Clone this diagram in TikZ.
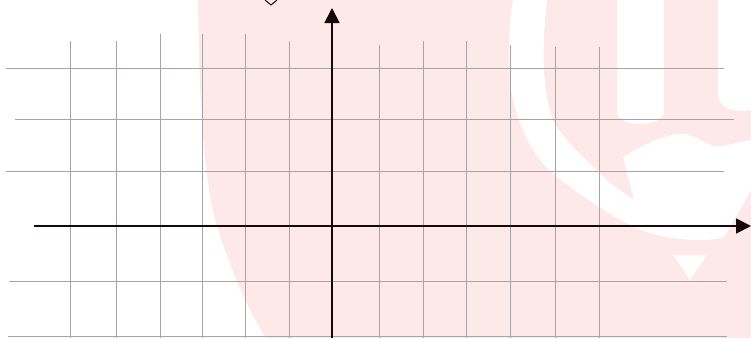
\documentclass[tikz,border=0pt]{standalone}
\usetikzlibrary{arrows.meta}
\definecolor{wmpink}{RGB}{253,232,234}
\definecolor{gridgray}{RGB}{168,164,166}
\definecolor{axisdark}{RGB}{22,8,10}
\tikzset{
  gridline/.style={draw=gridgray, line width=0.9pt},
  axisline/.style={draw=axisdark, line width=1.8pt, -{Triangle[length=15pt,width=15pt]}},
  wmwhite/.style={fill=white, draw=none},
}
\begin{document}
\begin{tikzpicture}[x=1pt,y=-1pt]
\useasboundingbox (0,0) rectangle (751,338);
\fill[white] (0,0) rectangle (751,338);
% watermark
\fill[wmpink] (198,0) .. controls (199,90) and (203,180) .. (217,226)
  .. controls (228,262) and (245,305) .. (266,338) -- (751,338) -- (751,0) -- cycle;
\fill[wmwhite] (513,0) .. controls (508,30) and (507,70) .. (513,100)
  .. controls (520,130) and (535,160) .. (557,177)
  .. controls (580,195) and (610,215) .. (630,225)
  .. controls (650,235) and (675,240) .. (700,240)
  .. controls (715,240) and (722,238) .. (725,236)
  -- (751,190) -- (751,140)
  .. controls (735,142) and (722,148) .. (712,146)
  .. controls (700,140) and (690,132) .. (676,134)
  .. controls (655,138) and (635,150) .. (623,157)
  -- (634,200)
  .. controls (620,190) and (608,183) .. (600,173)
  .. controls (580,155) and (560,135) .. (553,120)
  .. controls (545,100) and (540,60) .. (547,0) -- cycle;
\fill[wmwhite] (617,0) -- (617,112) .. controls (618,128) and (662,128) .. (664,112) -- (664,0) -- cycle;
\fill[wmwhite] (718,0) -- (718,95) .. controls (720,110) and (735,112) .. (751,110) -- (751,0) -- cycle;
\fill[wmwhite] (673,255) -- (707,255) -- (690,280) -- cycle;
% horizontal grid lines
\foreach \y/\a/\b in {68/6/724, 119/15/734, 171/6/724, 281/9/727, 336/8/727}
  \draw[gridline] (\a,\y) -- (\b,\y);
% vertical grid lines
\foreach \x/\t in {70/41, 116/41, 160/34, 202/34, 245/34, 289/41, 379/45, 423/41, 466/41, 510/45, 555/47, 599/47}
  \draw[gridline] (\x,\t) -- (\x,338);
% diamond fragment at top
\draw[axisdark, line width=1pt] (265,0) -- (271,5) -- (277,0);
% axes
\coordinate (xs) at (34,226);
\coordinate (xe) at (751,226);
\coordinate (ys) at (332,338);
\coordinate (ye) at (332,8);
\draw[axisline] (xs) -- (xe);
\draw[axisline] (ys) -- (ye);
\end{tikzpicture}
\end{document}
